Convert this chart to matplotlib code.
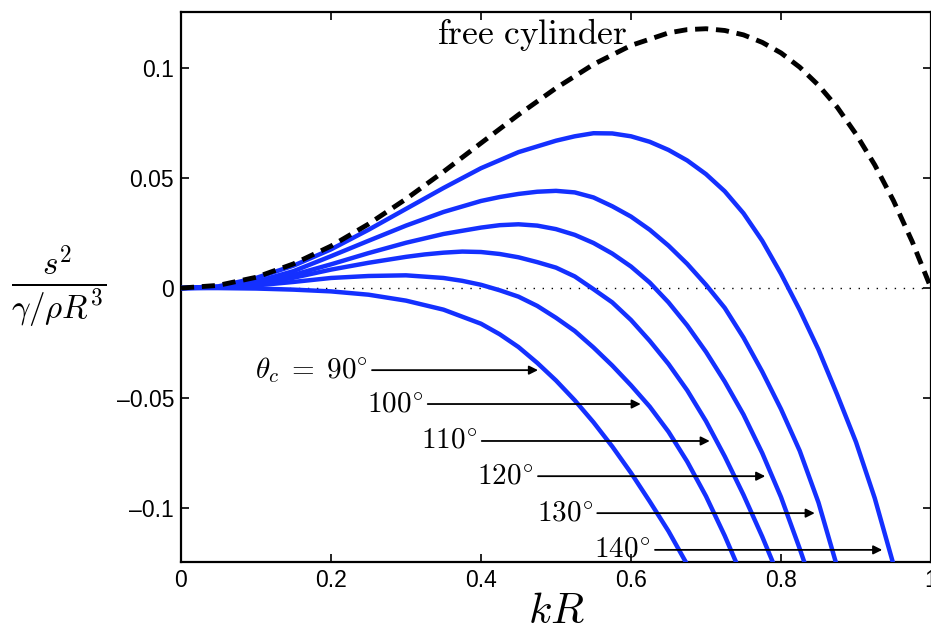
import matplotlib
matplotlib.use('Agg')
import matplotlib.pyplot as plt

plt.rcParams['mathtext.fontset'] = 'cm'
plt.rcParams['font.family'] = ['Liberation Sans', 'DejaVu Sans']

############################################################
#           DATA
############################################################

# free cylinder (dashed)
kr_free = [0, 0.05, 0.1, 0.15, 0.2, 0.25, 0.3, 0.35, 0.4, 0.45, 0.5, 0.55,
           0.6, 0.65, 0.675, 0.7, 0.725, 0.75, 0.775, 0.8, 0.825, 0.85,
           0.875, 0.9, 0.925, 0.95, 0.975, 1.0]
s2_free = [0, 0.00125, 0.0049, 0.011, 0.0191, 0.0291, 0.0405, 0.0529, 0.0659,
           0.0788, 0.0909, 0.1017, 0.1103, 0.1160, 0.1175, 0.1179, 0.1171,
           0.1151, 0.1117, 0.1069, 0.1004, 0.0922, 0.0822, 0.0700, 0.0560,
           0.0397, 0.0211, 0]

# contact angle curves
kr_90 = [0, 0.05, 0.1, 0.15, 0.2, 0.25, 0.3, 0.35, 0.4, 0.425, 0.45, 0.475,
         0.5, 0.525, 0.55, 0.575, 0.6, 0.625, 0.65, 0.673]
s2_90 = [0, 0, -0.0002, -0.0007, -0.0015, -0.003, -0.0057, -0.0098, -0.0162,
         -0.021, -0.0268, -0.034, -0.042, -0.051, -0.061, -0.072, -0.084,
         -0.097, -0.1105, -0.1245]

kr_100 = [0, 0.05, 0.1, 0.15, 0.2, 0.25, 0.3, 0.35, 0.375, 0.4, 0.425, 0.45,
          0.475, 0.5, 0.525, 0.55, 0.575, 0.6, 0.625, 0.65, 0.675, 0.7,
          0.725, 0.74]
s2_100 = [0, 0.0002, 0.0012, 0.0028, 0.0046, 0.0055, 0.0058, 0.0046, 0.0033,
          0.0015, -0.001, -0.0039, -0.0081, -0.0135, -0.0195, -0.027,
          -0.0352, -0.0442, -0.0539, -0.0653, -0.0789, -0.0946, -0.1126,
          -0.1245]

kr_110 = [0, 0.05, 0.1, 0.15, 0.2, 0.25, 0.3, 0.325, 0.35, 0.375, 0.4, 0.425,
          0.45, 0.475, 0.5, 0.525, 0.55, 0.575, 0.6, 0.625, 0.65, 0.675,
          0.7, 0.725, 0.75, 0.775, 0.789]
s2_110 = [0, 0.0003, 0.0019, 0.0047, 0.0084, 0.0115, 0.0142, 0.0153, 0.0161,
          0.0166, 0.0164, 0.0155, 0.014, 0.0118, 0.0093, 0.0053, -0.0005,
          -0.0065, -0.0145, -0.024, -0.0345, -0.0465, -0.0605, -0.0765,
          -0.094, -0.113, -0.1245]

kr_120 = [0, 0.05, 0.1, 0.15, 0.2, 0.25, 0.3, 0.35, 0.4, 0.425, 0.45, 0.475,
          0.5, 0.525, 0.55, 0.575, 0.6, 0.625, 0.65, 0.675, 0.7, 0.725,
          0.75, 0.775, 0.8, 0.825, 0.831]
s2_120 = [0, 0.0004, 0.0024, 0.006, 0.0108, 0.0159, 0.0206, 0.0246, 0.0275,
          0.0286, 0.029, 0.0284, 0.0268, 0.0242, 0.0205, 0.0157, 0.0098,
          0.0025, -0.0065, -0.017, -0.029, -0.0425, -0.0575, -0.075, -0.095,
          -0.1185, -0.1245]

kr_130 = [0, 0.05, 0.1, 0.15, 0.2, 0.25, 0.3, 0.35, 0.4, 0.425, 0.45, 0.475,
          0.5, 0.525, 0.55, 0.575, 0.6, 0.625, 0.65, 0.675, 0.7, 0.725,
          0.75, 0.775, 0.8, 0.825, 0.85, 0.873]
s2_130 = [0, 0.0005, 0.0029, 0.0077, 0.0145, 0.0215, 0.0284, 0.0346, 0.0396,
          0.0414, 0.0428, 0.0438, 0.0442, 0.0435, 0.0412, 0.0372, 0.0325,
          0.0265, 0.0193, 0.011, 0.0015, -0.009, -0.0225, -0.038, -0.055,
          -0.074, -0.0975, -0.1245]

kr_140 = [0, 0.05, 0.1, 0.15, 0.2, 0.25, 0.3, 0.35, 0.4, 0.45, 0.5, 0.525,
          0.55, 0.575, 0.6, 0.625, 0.65, 0.675, 0.7, 0.725, 0.75, 0.775,
          0.8, 0.825, 0.85, 0.875, 0.9, 0.925, 0.949]
s2_140 = [0, 0.0008, 0.0046, 0.0102, 0.0176, 0.0265, 0.036, 0.0455, 0.0545,
          0.0618, 0.067, 0.069, 0.0704, 0.0703, 0.069, 0.0665, 0.0628, 0.058,
          0.0518, 0.044, 0.034, 0.0215, 0.0065, -0.01, -0.028, -0.0485,
          -0.07, -0.0955, -0.1245]

curves = [(kr_90, s2_90), (kr_100, s2_100), (kr_110, s2_110),
          (kr_120, s2_120), (kr_130, s2_130), (kr_140, s2_140)]

# labels of the arrows
angle_labels = [r'$\theta_c\;=\;90^{\circ}$', r'$100^{\circ}$', r'$110^{\circ}$',
                r'$120^{\circ}$', r'$130^{\circ}$', r'$140^{\circ}$']

xtick_vals = [0, 0.2, 0.4, 0.6, 0.8, 1.0]
xtick_labels = ['0', '0.2', '0.4', '0.6', '0.8', '1']
ytick_vals = [-0.1, -0.05, 0, 0.05, 0.1]
ytick_labels = ['\u20130.1', '\u20130.05', '0', '0.05', '0.1']

############################################################
#           PLOT
############################################################

fig = plt.figure(figsize=(9.31, 6.32), dpi=100)
ax = fig.add_axes([0.1944, 0.1108, 0.8056, 0.8702])

blue = '#1430ff'
for kr, s2 in curves:
    ax.plot(kr, s2, color=blue, lw=3.2, zorder=3)

ax.plot(kr_free, s2_free, color='k', lw=3.5, dashes=(2.7, 1.6), zorder=4)

# zero line
ax.axhline(0, color='k', lw=1.0, ls=(0, (1, 5.5)), zorder=1)

ax.text(0.468, 0.1155, r'$\mathrm{free\ cylinder}$', fontsize=25.5,
        ha='center', va='center')

# arrows pointing to each curve
arrow_y = [-0.0373, -0.0527, -0.0695, -0.0855, -0.1023, -0.119]
arrow_x0 = [0.2547, 0.329, 0.401, 0.476, 0.555, 0.632]
arrow_x1 = [0.476, 0.613, 0.705, 0.779, 0.845, 0.935]
for lab, yy, x0, x1 in zip(angle_labels, arrow_y, arrow_x0, arrow_x1):
    ax.annotate('', xy=(x1, yy), xytext=(x0, yy),
                arrowprops=dict(arrowstyle='-|>', color='k', lw=1.3,
                                mutation_scale=13, shrinkA=0, shrinkB=0))
    ax.text(x0 - 0.006, yy, lab, fontsize=21, ha='right', va='center')

ax.set_xlim(0, 1)
ax.set_ylim(-0.1245, 0.1255)
ax.set_xticks(xtick_vals)
ax.set_xticklabels(xtick_labels)
ax.set_yticks(ytick_vals)
ax.set_yticklabels(ytick_labels)
ax.tick_params(direction='in', length=6, width=1.2, labelsize=16.5,
               top=True, right=True, pad=5)
for sp in ax.spines.values():
    sp.set_linewidth(1.6)

ax.set_xlabel(r'$kR$', fontsize=31, labelpad=0)
ax.text(-0.163, 0.5, r'$\frac{s^2}{\gamma/\rho R^3}$', fontsize=34,
        ha='center', va='center', transform=ax.transAxes)

fig.savefig('out.png', dpi=100)
